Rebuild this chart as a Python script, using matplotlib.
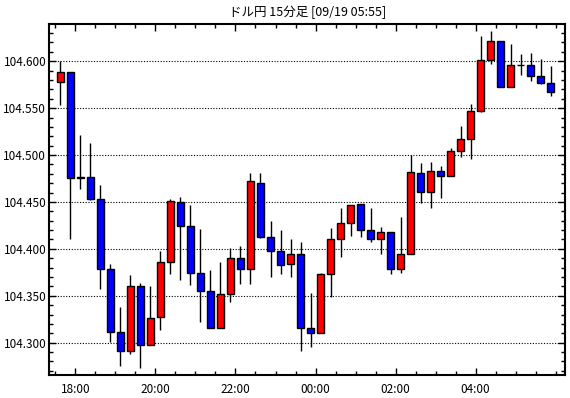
import numpy as np
import matplotlib
matplotlib.use("Agg")
import matplotlib.pyplot as plt
from matplotlib.ticker import MultipleLocator, FixedLocator

plt.rcParams['font.family'] = ['Noto Sans CJK JP', 'DejaVu Sans']

title = "ドル円 15分足 [09/19 05:55]"

opens = [104.578, 104.588, 104.475, 104.477, 104.453, 104.379, 104.311, 104.291, 104.360, 104.297,
         104.327, 104.386, 104.450, 104.424, 104.374, 104.355, 104.316, 104.352, 104.390, 104.379,
         104.470, 104.413, 104.398, 104.384, 104.395, 104.316, 104.310, 104.373, 104.410, 104.428,
         104.448, 104.420, 104.411, 104.418, 104.379, 104.394, 104.481, 104.461, 104.483, 104.478,
         104.504, 104.517, 104.547, 104.601, 104.622, 104.573, 104.596, 104.596, 104.584, 104.577]
highs = [104.600, 104.589, 104.521, 104.513, 104.468, 104.384, 104.338, 104.372, 104.364, 104.360,
         104.398, 104.453, 104.455, 104.447, 104.421, 104.377, 104.386, 104.401, 104.403, 104.481,
         104.481, 104.430, 104.420, 104.411, 104.407, 104.353, 104.374, 104.422, 104.443, 104.447,
         104.448, 104.443, 104.423, 104.418, 104.434, 104.500, 104.491, 104.493, 104.488, 104.507,
         104.531, 104.554, 104.627, 104.632, 104.622, 104.618, 104.608, 104.609, 104.602, 104.595]
lows = [104.553, 104.410, 104.464, 104.452, 104.357, 104.301, 104.275, 104.288, 104.273, 104.297,
        104.314, 104.373, 104.367, 104.361, 104.322, 104.316, 104.316, 104.343, 104.363, 104.362,
        104.412, 104.370, 104.373, 104.370, 104.291, 104.295, 104.310, 104.349, 104.391, 104.414,
        104.413, 104.407, 104.394, 104.373, 104.374, 104.394, 104.449, 104.443, 104.454, 104.478,
        104.498, 104.496, 104.546, 104.597, 104.572, 104.572, 104.585, 104.579, 104.576, 104.563]
closes = [104.588, 104.475, 104.477, 104.453, 104.379, 104.311, 104.291, 104.360, 104.297, 104.326,
          104.386, 104.451, 104.424, 104.374, 104.355, 104.316, 104.352, 104.390, 104.379, 104.472,
          104.413, 104.398, 104.383, 104.395, 104.316, 104.310, 104.373, 104.410, 104.428, 104.447,
          104.420, 104.411, 104.418, 104.379, 104.394, 104.482, 104.461, 104.483, 104.478, 104.504,
          104.517, 104.547, 104.601, 104.622, 104.573, 104.596, 104.596, 104.584, 104.577, 104.567]

hour_labels = ["18:00", "20:00", "22:00", "00:00", "02:00", "04:00"]
first_hour_idx = 1.5   # 18:00 falls between candle 1 and 2
per_label = 8          # 2 hours of 15 min candles

o = np.array(opens)
c = np.array(closes)
h = np.array(highs)
l = np.array(lows)
x = np.arange(len(o))

fig = plt.figure(figsize=(5.7, 3.98), dpi=100)
ax = fig.add_axes([0.086, 0.058, 0.906, 0.882])

ax.vlines(x, l, h, color="black", linewidth=1.0, zorder=2)
cols = np.where(c >= o, "#ff0000", "#0000ff")
ax.bar(x, c - o, bottom=o, width=0.65, color=cols, edgecolor="black", linewidth=1.0, zorder=3)

ax.set_xlim(-1.13, 50.47)
ax.set_ylim(104.2656, 104.6398)

ax.yaxis.set_major_locator(MultipleLocator(0.05))
ax.yaxis.set_minor_locator(MultipleLocator(0.01))
ax.yaxis.set_major_formatter(plt.FuncFormatter(lambda v, p: "%.3f" % v))

hour_pos = [first_hour_idx + per_label * k for k in range(len(hour_labels))]
ax.xaxis.set_major_locator(FixedLocator(hour_pos))
ax.set_xticklabels(hour_labels)
ax.xaxis.set_minor_locator(FixedLocator(np.arange(-0.5, 50.5, 2)))

ax.tick_params(which="both", direction="in", top=True, right=True, labelsize=8.5, colors="black")
ax.tick_params(which="major", length=5, width=1)
ax.tick_params(which="minor", length=3, width=1)
ax.tick_params(axis="x", pad=6)
ax.tick_params(axis="y", pad=2)

ax.grid(axis="y", which="major", color="black", linestyle=(0, (1, 1.5)), linewidth=0.8)
for s in ax.spines.values():
    s.set_linewidth(1.5)

fig.text(0.54, 0.97, title, ha="center", va="center", fontsize=9)

fig.savefig("out.png", dpi=100)
